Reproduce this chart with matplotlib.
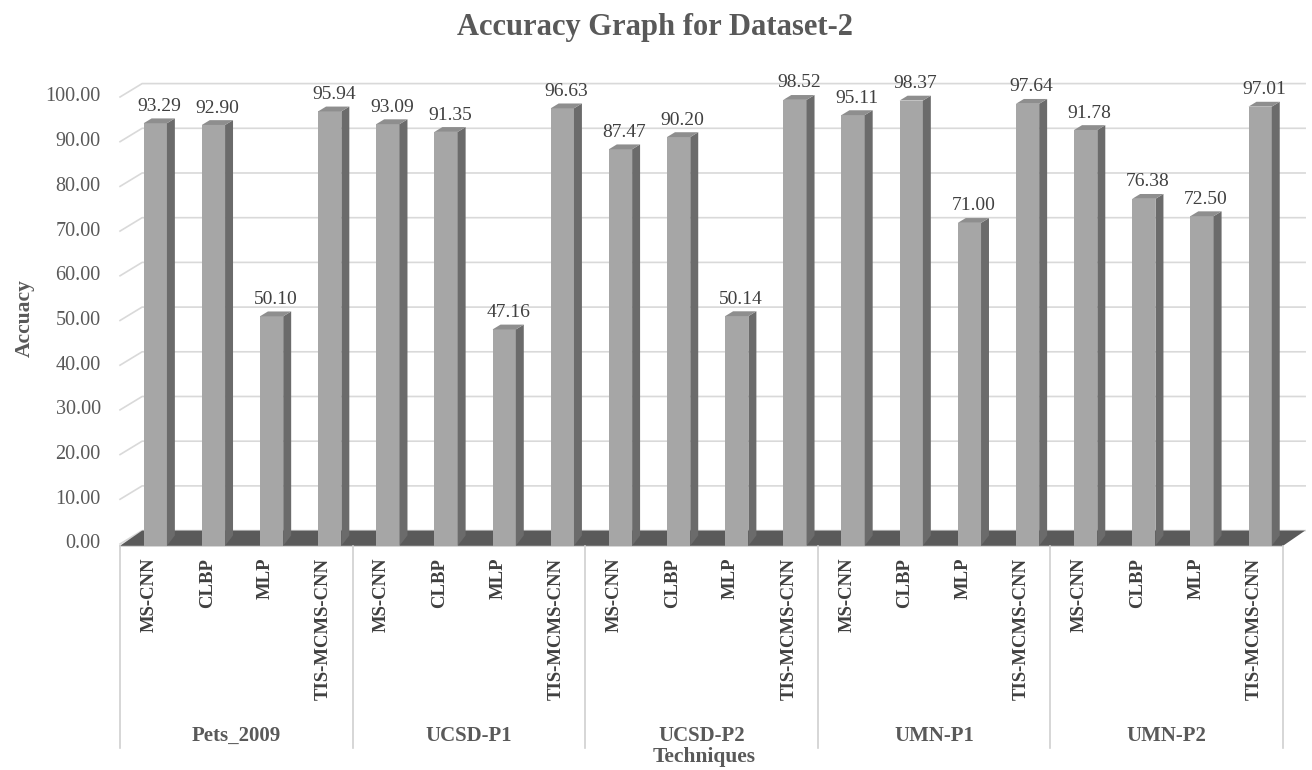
import matplotlib.pyplot as plt
from matplotlib.patches import Polygon
import numpy as np

plt.rcParams['font.family'] = ['Liberation Serif', 'DejaVu Serif']

# dataset groups and the techniques tested on each
datasets = ['Pets_2009', 'UCSD-P1', 'UCSD-P2', 'UMN-P1', 'UMN-P2']
techniques = ['MS-CNN', 'CLBP', 'MLP', 'TIS-MCMS-CNN']
pets_2009 = [93.29, 92.90, 50.10, 95.94]
ucsd_p1 = [93.09, 91.35, 47.16, 96.63]
ucsd_p2 = [87.47, 90.20, 50.14, 98.52]
umn_p1 = [95.11, 98.37, 71.00, 97.64]
umn_p2 = [91.78, 76.38, 72.50, 97.01]
y_ticks = np.arange(0, 101, 10)

values = pets_2009 + ucsd_p1 + ucsd_p2 + umn_p1 + umn_p2
n = len(values)
xpos = np.arange(n)

# depth of the pseudo-3D box (x in category units, y in value units)
DX, DY = 0.38, 3.0
BW = 0.40           # bar front width
D0, D1 = 0.28, 0.64  # bar front / back depth fraction

front_col = '#a6a6a6'
side_col = '#6b6b6b'
top_col = '#8e8e8e'
floor_col = '#5a5a5a'
grid_col = '#d9d9d9'
text_col = '#595959'

fig = plt.figure(figsize=(13.12, 7.7), dpi=100)
ax = fig.add_axes([0, 0, 1, 1])
ax.set_xlim(-2.564, 19.998)
ax.set_ylim(-50.56, 121.7)
ax.axis('off')

left, right = -0.5, n - 0.5

# back wall gridlines with the short slanted piece on the left wall
for v in y_ticks:
    ax.plot([left, left + DX, right + DX], [v, v + DY, v + DY],
            color=grid_col, lw=1.2, zorder=1)
    ax.text(left - 0.33, v, f'{v:.2f}', ha='right', va='center',
            fontsize=14.5, color=text_col)

# dark floor
floor = Polygon([(left, -0.4), (right, -0.4), (right + DX, DY), (left + DX, DY)],
                closed=True, facecolor=floor_col, edgecolor='none', zorder=2)
ax.add_patch(floor)

# bars: front face, side face and top
for x, v in zip(xpos, values):
    fx0 = x - BW / 2 + D0 * DX
    fx1 = x + BW / 2 + D0 * DX
    by = D0 * DY
    ddx = (D1 - D0) * DX
    ddy = (D1 - D0) * DY
    ax.add_patch(Polygon([(fx0, -0.4), (fx1, -0.4), (fx1, v + by), (fx0, v + by)],
                         closed=True, facecolor=front_col, edgecolor='none', zorder=3))
    ax.add_patch(Polygon([(fx1, -0.4), (fx1 + ddx, by + ddy), (fx1 + ddx, v + by + ddy), (fx1, v + by)],
                         closed=True, facecolor=side_col, edgecolor='none', zorder=3))
    ax.add_patch(Polygon([(fx0, v + by), (fx1, v + by), (fx1 + ddx, v + by + ddy), (fx0 + ddx, v + by + ddy)],
                         closed=True, facecolor=top_col, edgecolor='none', zorder=3))
    ax.text(x + (D0 + D1) / 2 * DX, v + by + ddy + 0.8, f'{v:.2f}',
            ha='center', va='bottom', fontsize=14, color='#404040', zorder=4)

# category axis box with group separators
box_bottom = -45.6
ax.plot([left, right], [-0.4, -0.4], color='#d0d0d0', lw=1.2, zorder=1)
for g in range(len(datasets) + 1):
    gx = left + g * len(techniques)
    ax.plot([gx, gx], [-0.4, box_bottom], color='#d0d0d0', lw=1.2)

for x, lab in zip(xpos, techniques * len(datasets)):
    ax.text(x, -3.1, lab, rotation=90, ha='center', va='top',
            fontsize=13.5, fontweight='bold', color='#404040')

for g, name in enumerate(datasets):
    gx = left + g * len(techniques) + len(techniques) / 2
    ax.text(gx, -43.0, name, ha='center', va='center',
            fontsize=15, fontweight='bold', color=text_col)

ax.text(9.55, -47.6, 'Techniques', ha='center', va='center',
        fontsize=15.5, fontweight='bold', color=text_col)

fig.text(25 / 1312, 1 - 318 / 770, 'Accuacy', rotation=90, ha='center', va='center',
         fontsize=15.5, fontweight='bold', color=text_col)
fig.text(655 / 1312, 1 - 27 / 770, 'Accuracy Graph for Dataset-2', ha='center', va='center',
         fontsize=22, fontweight='bold', color=text_col)

fig.savefig('out.png', dpi=100)
